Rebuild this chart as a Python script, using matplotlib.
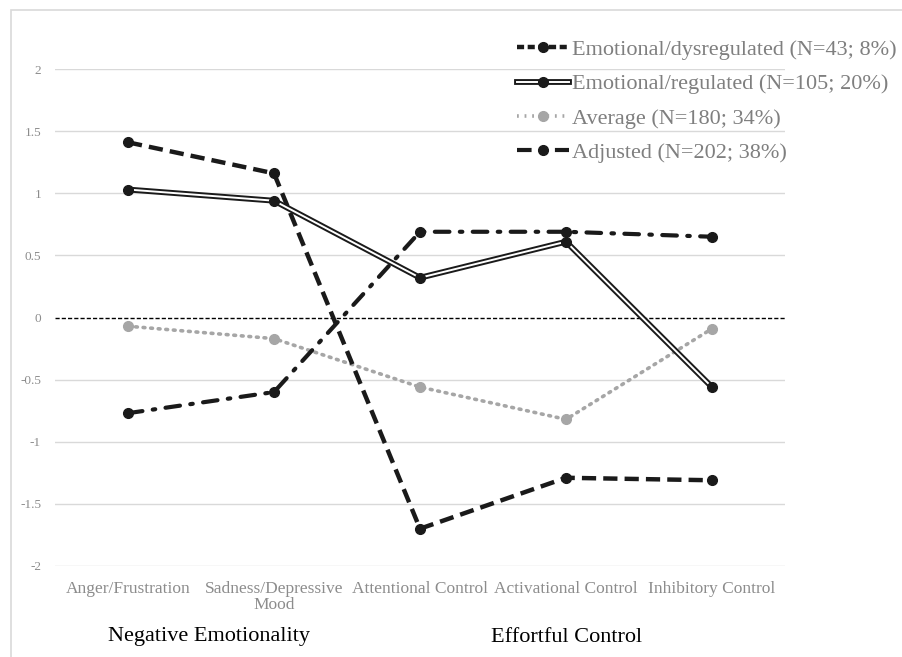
import matplotlib
matplotlib.use("Agg")
import matplotlib.pyplot as plt
from matplotlib.lines import Line2D
from matplotlib.patches import Rectangle
from matplotlib.legend_handler import HandlerTuple

categories = ["Anger/Frustration", "Sadness/Depressive\nMood", "Attentional Control",
              "Activational Control", "Inhibitory Control"]
dysregulated = [1.41, 1.16, -1.70, -1.29, -1.31]
regulated = [1.03, 0.94, 0.32, 0.61, -0.56]
average = [-0.07, -0.17, -0.56, -0.82, -0.09]
adjusted = [-0.77, -0.60, 0.69, 0.69, 0.65]
labels = ["Emotional/dysregulated (N=43; 8%)", "Emotional/regulated (N=105; 20%)",
          "Average (N=180; 34%)", "Adjusted (N=202; 38%)"]
yticks = [-2, -1.5, -1, -0.5, 0, 0.5, 1, 1.5, 2]
ytick_labels = ["-2", "-1.5", "-1", "-0.5", "0", "0.5", "1", "1.5", "2"]
groups = ["Negative Emotionality", "Effortful Control"]

plt.rcParams['font.family'] = ['Liberation Serif', 'DejaVu Serif']

fig = plt.figure(figsize=(9.03, 6.57), dpi=100)
ax = fig.add_axes([55/903, 1 - 566/657, (785-55)/903, (566-69)/657])

x = list(range(len(categories)))
DARK = "#1a1a1a"
GRID = "#d9d9d9"
TICK = "#8c8c8c"

# gridlines
for yv in yticks:
    if yv != 0:
        ax.axhline(yv, color=GRID, lw=1.0, zorder=0)
ax.axhline(0, color="black", lw=1.0, ls=(0, (3, 1.5)), zorder=1)

ax.plot(x, dysregulated, color=DARK, lw=3.2, ls=(0, (3.2, 1.6)),
        marker="o", ms=7, zorder=3, dash_capstyle="butt")
ax.plot(x, regulated, color=DARK, lw=4.2, zorder=4, solid_capstyle="butt")
ax.plot(x, regulated, color="white", lw=1.4, zorder=4, solid_capstyle="butt")
ax.plot(x, regulated, ls="none", marker="o", ms=7, color=DARK, zorder=5)
ax.plot(x, average, color="#a6a6a6", lw=2.6, ls=(0, (0.5, 1.6)),
        marker="o", ms=7, zorder=2, dash_capstyle="round")
ax.plot(x, adjusted, color=DARK, lw=3.0, ls=(0, (3.5, 2.5, 0.6, 2.5)),
        marker="o", ms=7, zorder=3, dash_capstyle="round")

ax.set_xlim(-0.5, 4.5)
ax.set_ylim(-2, 2)
ax.set_yticks(yticks)
ax.set_yticklabels(ytick_labels)
ax.set_xticks(x)
ax.set_xticklabels(categories, linespacing=1.0)
ax.tick_params(axis="both", length=0, colors=TICK)
ax.tick_params(axis="y", pad=10, labelsize=9.5)
ax.tick_params(axis="x", pad=11, labelsize=12.5)
for s in ax.spines.values():
    s.set_visible(False)

# legend
h1 = Line2D([], [], color=DARK, lw=3.2, ls=(0, (1.6, 0.8)), marker="o", ms=7)
h2a = Line2D([], [], color=DARK, lw=4.2)
h2b = Line2D([], [], color="white", lw=1.4)
h2c = Line2D([], [], ls="none", marker="o", ms=7, color=DARK)
h3 = Line2D([], [], color="#a6a6a6", lw=2.6, ls=(0, (0.5, 1.6)), marker="o", ms=7)
h4 = Line2D([], [], color=DARK, lw=3.0, ls=(0, (3.5, 2.5, 0.6, 2.5)), marker="o", ms=7)
leg = fig.legend([h1, (h2a, h2b, h2c), h3, h4], labels, loc="upper left",
                 bbox_to_anchor=(513/903, 1 - 35/657), frameon=False, fontsize=16,
                 handlelength=2.3, handletextpad=0.15, labelspacing=0.62,
                 borderpad=0.2, borderaxespad=0,
                 handler_map={tuple: HandlerTuple(ndivide=1, pad=0)})
for t in leg.get_texts():
    t.set_color("#7f7f7f")

# group labels
fig.text(209/903, 1 - 637/657, groups[0], ha="center", va="center", fontsize=16, color="black")
fig.text(567/903, 1 - 637/657, groups[1], ha="center", va="center", fontsize=16, color="black")

# outer border
fig.patches.append(Rectangle((11/903, -0.1), 2, 1 - 10/657 + 0.1, transform=fig.transFigure,
                             fill=False, edgecolor=GRID, lw=1.2))

fig.savefig("out.png", dpi=100)
